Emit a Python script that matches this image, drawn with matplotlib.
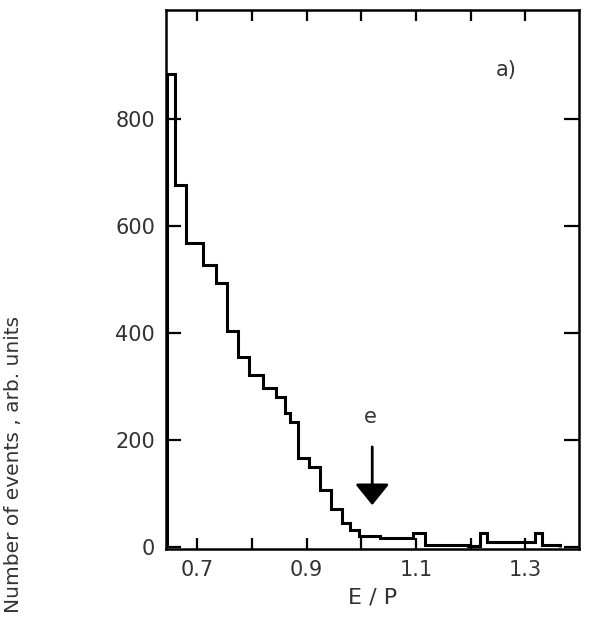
import numpy as np
from matplotlib import pyplot as plt

# histogram E/P, bin edges and counts
bordes = [0.645, 0.66, 0.68, 0.71, 0.735, 0.755, 0.775, 0.795, 0.82, 0.845,
          0.86, 0.87, 0.885, 0.905, 0.925, 0.945, 0.965, 0.98, 0.995, 1.035,
          1.095, 1.117, 1.195, 1.217, 1.23, 1.318, 1.331, 1.364]
cuentas = [885, 677, 568, 527, 493, 404, 355, 321, 297, 280,
           250, 234, 166, 150, 107, 71, 45, 32, 20, 17,
           26, 4, 1, 26, 9, 26, 4]

xticks = [0.7, 0.8, 0.9, 1.0, 1.1, 1.2, 1.3]
xlabels = ['0.7', '', '0.9', '', '1.1', '', '1.3']
yticks = [0, 200, 400, 600, 800]

plt.rcParams['font.family'] = ['DejaVu Sans']
gris = '#333333'

fig = plt.figure(figsize=(5.89, 6.21), dpi=100)
ax = fig.add_axes([166 / 589, 1 - 549 / 621, 413 / 589, 539 / 621])

ax.stairs(cuentas, bordes, color='black', lw=2.2, baseline=0)

ax.set_xlim(0.643, 1.398)
ax.set_ylim(-4, 1004)

ax.set_xticks(xticks)
ax.set_xticklabels(xlabels)
ax.set_yticks(yticks)
ax.tick_params(axis='both', direction='in', top=True, right=True,
               labelsize=15, labelcolor=gris, width=1.6, pad=8)
ax.tick_params(axis='x', length=8)
ax.tick_params(axis='y', length=11)
for s in ax.spines.values():
    s.set_linewidth(1.8)

ax.set_xlabel('E / P', fontsize=16, color=gris, labelpad=5)
fig.text(14 / 589, 1 - 464 / 621, 'Number of events , arb. units',
         rotation=90, ha='center', va='center', fontsize=14.5, color=gris)

# flecha del electron
ax.annotate('', xy=(1.02, 78), xytext=(1.02, 187),
            arrowprops=dict(arrowstyle='-|>,head_width=1.05,head_length=1.3',
                            color='black', lw=2, mutation_scale=10,
                            shrinkA=0, shrinkB=0))
ax.text(1.017, 243, 'e', ha='center', va='center', fontsize=15, color=gris)
ax.text(1.264, 892, 'a)', ha='center', va='center', fontsize=15, color=gris)

plt.savefig('out.png', dpi=100)
